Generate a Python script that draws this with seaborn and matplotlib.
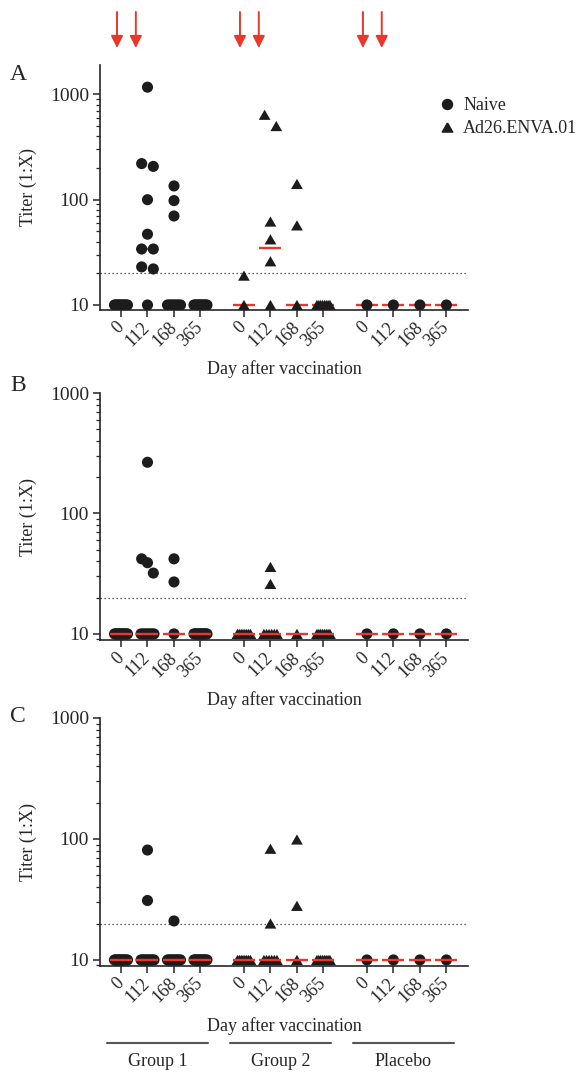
import matplotlib
matplotlib.use('Agg')
import matplotlib.pyplot as plt
import matplotlib.transforms as mtransforms
import numpy as np
import pandas as pd
import seaborn as sns
from matplotlib.lines import Line2D
from matplotlib.ticker import FixedLocator, LogLocator, NullFormatter

DAYS = ['0', '112', '168', '365']
GROUPS = ['Group 1', 'Group 2', 'Placebo']
PRIOR = ['Naive', 'Ad26.ENVA.01', 'Naive']

# titers, one list per day (0, 112, 168, 365)
a_group1 = [[10, 10, 10, 10, 10, 10, 10, 10, 10, 10, 10],
            [1170, 220, 207, 100, 47, 34, 34, 23, 22, 10],
            [135, 98, 70, 10, 10, 10, 10, 10, 10, 10, 10],
            [10, 10, 10, 10, 10, 10, 10, 10, 10, 10, 10]]
a_group2 = [[19, 10],
            [640, 500, 62, 42, 26, 10],
            [141, 57, 10],
            [10, 10, 10, 10, 10, 10, 10, 10]]
a_placebo = [[10], [10], [10], [10]]

b_group1 = [[10, 10, 10, 10, 10, 10, 10, 10, 10, 10, 10],
            [266, 42, 39, 32, 10, 10, 10, 10, 10, 10, 10],
            [42, 27, 10],
            [10, 10, 10, 10, 10, 10, 10, 10, 10, 10, 10]]
b_group2 = [[10, 10, 10, 10, 10, 10, 10, 10],
            [36, 26, 10, 10, 10, 10, 10, 10],
            [10],
            [10, 10, 10, 10, 10, 10, 10, 10]]
b_placebo = [[10], [10], [10], [10]]

c_group1 = [[10, 10, 10, 10, 10, 10, 10, 10, 10, 10, 10],
            [81, 31, 10, 10, 10, 10, 10, 10, 10, 10, 10],
            [21, 10, 10, 10, 10, 10, 10, 10, 10, 10, 10],
            [10, 10, 10, 10, 10, 10, 10, 10, 10, 10, 10]]
c_group2 = [[10, 10, 10, 10, 10, 10, 10, 10],
            [83, 20, 10, 10, 10, 10, 10, 10],
            [99, 28, 10],
            [10, 10, 10, 10, 10, 10, 10, 10]]
c_placebo = [[10], [10], [10], [10]]

# medians (red bars)
median_a = [[10, 34, 10, 10], [10, 35, 10, 10], [10, 10, 10, 10]]
median_b = [[10, 10, 10, 10], [10, 10, 10, 10], [10, 10, 10, 10]]
median_c = [[10, 10, 10, 10], [10, 10, 10, 10], [10, 10, 10, 10]]

LOD = 20
RED = '#e8382b'
INK = '#1c1c1c'
GROUP_STEP = 4.64
# equilateral triangle, centred on its box
TRIANGLE = [(0, 0.433), (-0.5, -0.433), (0.5, -0.433), (0, 0.433)]


def spread(values, gap=0.12):
    """Prism-like horizontal spread of points that sit close together."""
    vals = sorted(values, reverse=True)
    logs = np.log10(vals)
    clusters = [[0]]
    for i in range(1, len(vals)):
        if logs[clusters[-1][-1]] - logs[i] <= gap:
            clusters[-1].append(i)
        else:
            clusters.append([i])
    offs = []
    for cl in clusters:
        n = len(cl)
        if n == 1:
            offs.append(0.0)
        else:
            w = 0.22 if n <= 3 else 0.245
            offs.extend(np.linspace(-w, w, n))
    return vals, offs


def build(panel, groups):
    rows = []
    for g, days in enumerate(groups):
        for d, vals in enumerate(days):
            v, offs = spread(vals)
            for val, off in zip(v, offs):
                rows.append(dict(panel=panel, group=GROUPS[g], prior=PRIOR[g],
                                 day=DAYS[d], titer=val,
                                 x=g * GROUP_STEP + d + off))
    return rows


rows = (build('A', [a_group1, a_group2, a_placebo])
        + build('B', [b_group1, b_group2, b_placebo])
        + build('C', [c_group1, c_group2, c_placebo]))
df = pd.DataFrame(rows)

sns.set_style('ticks')
plt.rcParams['font.family'] = ['Liberation Serif', 'DejaVu Serif']
plt.rcParams['text.color'] = '#262626'
plt.rcParams['axes.labelcolor'] = '#262626'
plt.rcParams['xtick.color'] = '#262626'
plt.rcParams['ytick.color'] = '#262626'

W, H = 581, 1072
fig = plt.figure(figsize=(W / 100, H / 100), dpi=100)

# (name, top px, bottom px, ylim, medians, medians drawn on top, letter y px)
panels = [('A', 65, 309.5, (9.06, 1900), median_a, False, 74.5),
          ('B', 393, 640, (8.9, 1000), median_b, True, 385.5),
          ('C', 718, 965.7, (8.96, 1000), median_c, True, 716.5)]

positions = [g * GROUP_STEP + d for g in range(3) for d in range(4)]
axes = {}
for name, top, bot, ylim, med, med_top, ly in panels:
    ax = fig.add_axes([100 / W, (H - bot) / H, 368 / W, (bot - top) / H])
    axes[name] = ax
    sub = df[df.panel == name]
    sns.scatterplot(data=sub, x='x', y='titer', style='prior', size='prior',
                    style_order=['Naive', 'Ad26.ENVA.01'],
                    markers={'Naive': 'o', 'Ad26.ENVA.01': TRIANGLE},
                    sizes={'Naive': 64, 'Ad26.ENVA.01': 72},
                    color=INK, linewidth=0, legend=False, ax=ax, zorder=3)
    for g in range(3):
        xs = np.array([g * GROUP_STEP + d for d in range(4)])
        ax.hlines(med[g], xs - 0.415, xs + 0.415, color=RED, lw=1.7,
                  zorder=4 if med_top else 2)
    ax.axhline(LOD, color='#333333', lw=0.9, ls=(0, (1, 2.2)), zorder=1)

    ax.set_yscale('log')
    ax.set_ylim(*ylim)
    ax.set_xlim(-0.792, positions[-1] + 0.815)
    ax.yaxis.set_major_locator(FixedLocator([10, 100, 1000]))
    ax.set_yticklabels(['10', '100', '1000'])
    ax.yaxis.set_minor_locator(LogLocator(base=10, subs=np.arange(2, 10)))
    ax.yaxis.set_minor_formatter(NullFormatter())
    ax.set_xticks(positions, DAYS * 3, rotation=45, ha='right', va='center',
                  rotation_mode='anchor')
    ax.tick_params(axis='y', which='major', length=5, width=1.1, labelsize=14, pad=3)
    ax.tick_params(axis='y', which='minor', length=3, width=0.9)
    ax.tick_params(axis='x', length=5, width=1.1, labelsize=13, pad=6)
    sns.despine(ax=ax)
    for sp in ('left', 'bottom'):
        ax.spines[sp].set_color('#262626')
        ax.spines[sp].set_linewidth(1.2)

    ax.set_xlabel('Day after vaccination', fontsize=13)
    ax.xaxis.set_label_coords(0.5, -(60 / (bot - top)))
    ax.xaxis.label.set_va('center')
    ax.set_ylabel('Titer (1:X)', fontsize=13)
    ax.yaxis.set_label_coords(-72 / 368, 0.5)
    ax.yaxis.label.set_va('center')

    fig.text(18 / W, 1 - ly / H, name, fontsize=17, ha='center', va='center')

# vaccination arrows over panel A
ta = mtransforms.blended_transform_factory(axes['A'].transData, fig.transFigure)
for g in range(3):
    for off in (-0.15, 0.56):
        x = g * GROUP_STEP + off
        axes['A'].annotate('', xy=(x, 1 - 48 / H), xytext=(x, 1 - 12 / H),
                           xycoords=ta, textcoords=ta, annotation_clip=False,
                           arrowprops=dict(arrowstyle='-|>', color=RED, lw=1.4,
                                           mutation_scale=18,
                                           shrinkA=0, shrinkB=0))

# legend
handles = [Line2D([], [], marker='o', ls='none', color=INK, markersize=7.2),
           Line2D([], [], marker=TRIANGLE, ls='none', color=INK, markersize=7.6)]
fig.legend(handles, ['Naive', 'Ad26.ENVA.01'], loc='upper left',
           bbox_to_anchor=(438 / W, 1 - 97 / H), frameon=False, fontsize=13,
           handlelength=1.0, handletextpad=0.4, labelspacing=0.33,
           borderpad=0, borderaxespad=0)

# group brackets under panel C
tc = mtransforms.blended_transform_factory(axes['C'].transData, fig.transFigure)
for g, label in enumerate(GROUPS):
    x0 = g * GROUP_STEP - 0.53
    x1 = g * GROUP_STEP + 3.28
    fig.add_artist(Line2D([x0, x1], [1 - 1043 / H] * 2, transform=tc,
                          color='#555555', lw=1.5))
    fig.text((x0 + x1) / 2, 1 - 1062 / H, label, transform=tc, fontsize=13,
             ha='center', va='center')

fig.savefig('out.png', dpi=100)
